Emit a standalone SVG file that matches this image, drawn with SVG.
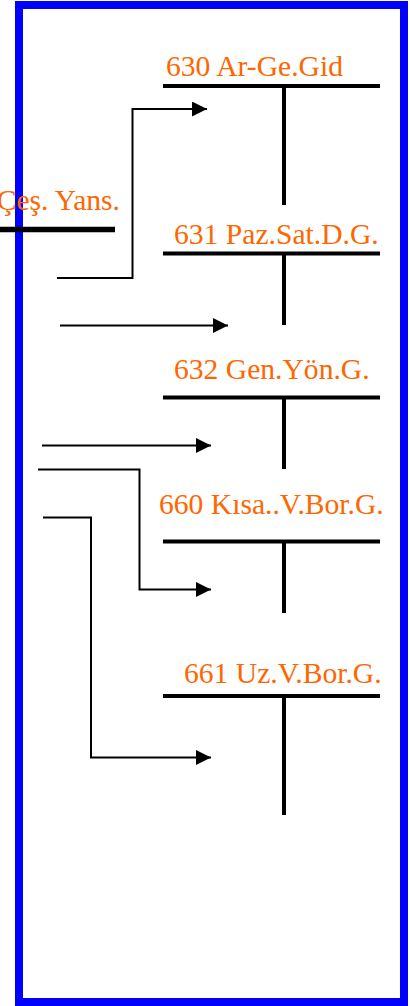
<svg xmlns="http://www.w3.org/2000/svg" width="410" height="1006" viewBox="0 0 410 1006">
<style>
.lbl{font-family:"Liberation Serif","Times New Roman",serif;font-size:29.6px;fill:#FF6600}
.bar{stroke:#000;stroke-width:4;fill:none}
.con{stroke:#000;stroke-width:2;fill:none}
</style>
<defs>
<marker id="ah" markerUnits="userSpaceOnUse" markerWidth="16" markerHeight="16" refX="15" refY="7.5" orient="auto">
<path d="M0,0 L15,7.5 L0,15 z" fill="#000"/>
</marker>
</defs>
<rect x="19" y="5" width="385" height="997" fill="#fff" stroke="#0000FF" stroke-width="8"/>
<g id="node-source">
<line class="bar" x1="0" y1="229.5" x2="115" y2="229.5" style="stroke-width:5.5"/>
<text class="lbl" x="120" y="210" text-anchor="end">Çeş. Yans.</text>
</g>
<g id="node-630">
<text class="lbl" x="166" y="75.5">630 Ar-Ge.Gid</text>
<line class="bar" x1="163" y1="86" x2="380" y2="86"/>
<line class="bar" x1="284" y1="86" x2="284" y2="205"/>
</g>
<g id="node-631">
<text class="lbl" x="174" y="244">631 Paz.Sat.D.G.</text>
<line class="bar" x1="163" y1="253.5" x2="380" y2="253.5"/>
<line class="bar" x1="284" y1="253.5" x2="284" y2="325"/>
</g>
<g id="node-632">
<text class="lbl" x="174" y="379">632 Gen.Yön.G.</text>
<line class="bar" x1="163" y1="397.5" x2="380" y2="397.5"/>
<line class="bar" x1="284" y1="397.5" x2="284" y2="469"/>
</g>
<g id="node-660">
<text class="lbl" x="159" y="513.5">660 Kısa..V.Bor.G.</text>
<line class="bar" x1="163" y1="541.5" x2="380" y2="541.5"/>
<line class="bar" x1="284" y1="541.5" x2="284" y2="613"/>
</g>
<g id="node-661">
<text class="lbl" x="184" y="683">661 Uz.V.Bor.G.</text>
<line class="bar" x1="163" y1="696" x2="380" y2="696"/>
<line class="bar" x1="284" y1="696" x2="284" y2="815"/>
</g>
<g id="connectors">
<polyline class="con" points="57,278 132.5,278 132.5,109 207,109" marker-end="url(#ah)"/>
<line class="con" x1="60" y1="325.5" x2="228" y2="325.5" marker-end="url(#ah)"/>
<line class="con" x1="42" y1="445.5" x2="211" y2="445.5" marker-end="url(#ah)"/>
<polyline class="con" points="38,469.5 139.5,469.5 139.5,589.5 211,589.5" marker-end="url(#ah)"/>
<polyline class="con" points="43,517.5 91,517.5 91,757.5 211,757.5" marker-end="url(#ah)"/>
</g>
</svg>
